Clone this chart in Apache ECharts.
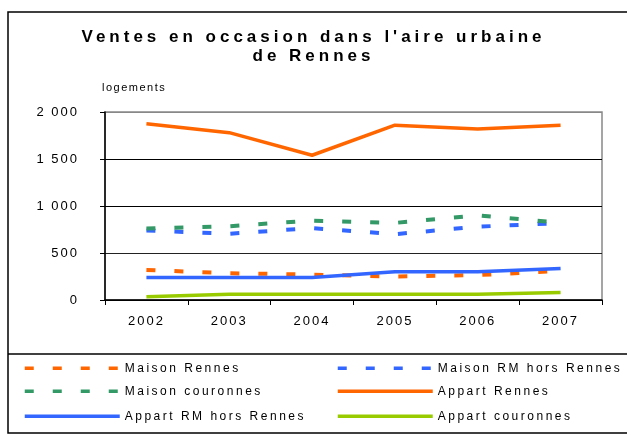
<!DOCTYPE html>
<html>
<head>
<meta charset="utf-8">
<script src="https://cdn.jsdelivr.net/npm/echarts@6/dist/echarts.min.js"></script>
<style>
  html, body { margin: 0; padding: 0; background: #fff; }
  #main { width: 627px; height: 435px; }
</style>
</head>
<body>
<div id="main"></div>
<script>
// données
var years = ["2002", "2003", "2004", "2005", "2006", "2007"];
var maisonRennes = [320, 285, 270, 250, 265, 310];
var maisonRM = [740, 705, 765, 700, 780, 818];
var maisonCouronnes = [760, 785, 845, 820, 900, 822];
var appartRennes = [1875, 1780, 1540, 1860, 1820, 1860];
var appartRM = [240, 240, 240, 300, 300, 335];
var appartCouronnes = [35, 60, 60, 60, 62, 80];
var yTicks = { 0: "0", 500: "500", 1000: "1 000", 1500: "1 500", 2000: "2 000" };

// texte espacé comme dans l'original (espacement selon la taille de police)
var spacing = { 17: 4, 13: 2, 12: 2.5, 11: 1.5 };
["fillText", "strokeText", "measureText"].forEach(function (k) {
  var f = CanvasRenderingContext2D.prototype[k];
  CanvasRenderingContext2D.prototype[k] = function () {
    var m = /(\d+)px/.exec(this.font);
    this.letterSpacing = ((m && spacing[m[1]]) || 0) + "px";
    return f.apply(this, arguments);
  };
});

var font = "Liberation Sans";
var orange = "#FF6600", blue = "#3366FF", green = "#339966", lime = "#99CC00";
var dash = [9, 19];

function serie(name, data, color, dashed) {
  return {
    name: name,
    type: "line",
    data: data,
    symbol: "none",
    lineStyle: { color: color, width: dashed ? 4 : 3.5, type: dashed ? dash : "solid" },
    itemStyle: { color: color },
  };
}

function legendItem(name, left, top) {
  return {
    data: [name],
    left: left,
    top: top,
    padding: 0,
    itemWidth: 95,
    itemHeight: 14,
    itemGap: 0,
    itemStyle: { opacity: 0 },
    lineStyle: { width: 3.5 },
    textStyle: { fontFamily: font, fontSize: 12, color: "#000", padding: [0, 0, 0, 0] },
  };
}

var myChart = echarts.init(document.getElementById("main"));

var option = {
  animation: false,
  backgroundColor: "#fff",
  title: {
    text: "Ventes en occasion dans l'aire urbaine\nde Rennes",
    left: "center",
    top: 28,
    padding: 0,
    textStyle: { fontFamily: font, fontSize: 17, fontWeight: "bold", color: "#000", lineHeight: 19 },
  },
  legend: [
    legendItem("Maison Rennes", 23, 361),
    legendItem("Maison RM hors Rennes", 336, 361),
    legendItem("Maison couronnes", 23, 384),
    legendItem("Appart Rennes", 336, 384),
    legendItem("Appart RM hors Rennes", 23, 409),
    legendItem("Appart couronnes", 336, 409),
  ],
  grid: {
    left: 105,
    top: 112,
    right: 25,
    bottom: 135,
    show: true,
    borderColor: "#888",
    borderWidth: 1.5,
  },
  xAxis: {
    type: "category",
    data: years,
    boundaryGap: true,
    axisLine: { lineStyle: { color: "#000", width: 1.5 } },
    axisTick: { show: true, length: 5, lineStyle: { color: "#000" } },
    axisLabel: { color: "#000", fontFamily: font, fontSize: 13, margin: 14 },
  },
  yAxis: {
    type: "value",
    name: "logements",
    nameLocation: "end",
    nameGap: 18,
    nameTextStyle: { fontFamily: font, fontSize: 11, color: "#000", align: "left", padding: [0, 0, 0, -3] },
    min: 0,
    max: 2000,
    interval: 500,
    axisLine: { show: true, lineStyle: { color: "#000", width: 1.5 } },
    axisTick: { show: true, length: 5, lineStyle: { color: "#000" } },
    axisLabel: {
      color: "#000",
      fontFamily: font,
      fontSize: 13,
      margin: 26,
      formatter: function (v) { return yTicks[v]; },
    },
    splitLine: { lineStyle: { color: ["#000", "#222", "#000", "#000", "#888"], width: 1 } },
  },
  graphic: [
    { type: "rect", shape: { x: 8, y: 12, width: 640, height: 421 }, style: { fill: null, stroke: "#000", lineWidth: 1.5 }, silent: true },
    { type: "line", shape: { x1: 8, y1: 354, x2: 627, y2: 354 }, style: { stroke: "#000", lineWidth: 1.5 }, silent: true },
  ],
  series: [
    serie("Maison Rennes", maisonRennes, orange, true),
    serie("Maison RM hors Rennes", maisonRM, blue, true),
    serie("Maison couronnes", maisonCouronnes, green, true),
    serie("Appart Rennes", appartRennes, orange, false),
    serie("Appart RM hors Rennes", appartRM, blue, false),
    serie("Appart couronnes", appartCouronnes, lime, false),
  ],
};

myChart.setOption(option);
</script>
</body>
</html>
